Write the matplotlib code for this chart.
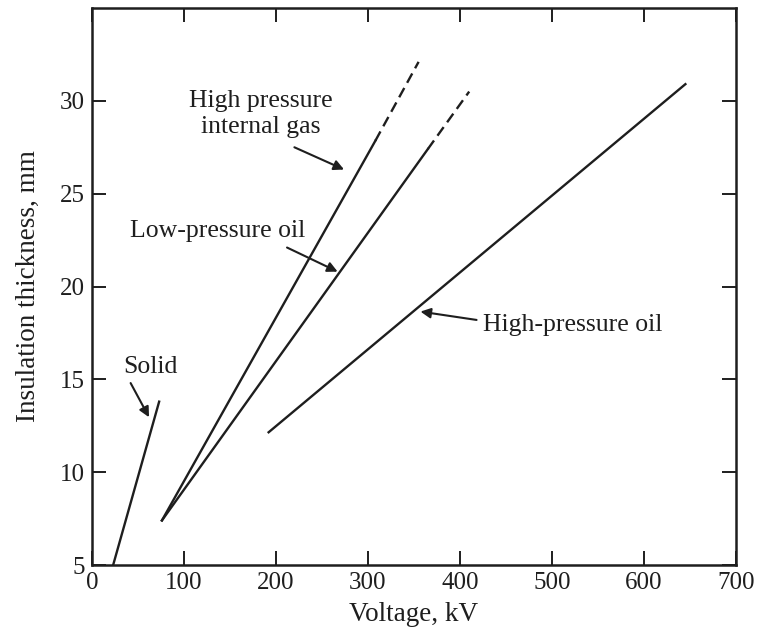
import matplotlib

matplotlib.use("Agg")
import matplotlib.pyplot as plt

# data (kV, mm)
solid_v = [23, 73]
solid_t = [5.0, 13.8]

gas_v = [76, 308]
gas_t = [7.4, 27.85]
gas_ext_v = [308, 355]
gas_ext_t = [27.85, 32.1]

lpo_v = [76, 365]
lpo_t = [7.4, 27.4]
lpo_ext_v = [365, 410]
lpo_ext_t = [27.4, 30.5]

hpo_v = [192, 645]
hpo_t = [12.15, 30.9]

x_ticks = [0, 100, 200, 300, 400, 500, 600, 700]
y_ticks = [5, 10, 15, 20, 25, 30]

INK = "#1e1e1e"

plt.rcParams.update({
    "font.family": ["Liberation Serif", "DejaVu Serif"],
    "font.size": 18,
})

fig = plt.figure(figsize=(7.59, 6.37), dpi=100)
ax = fig.add_axes([0.1212, 0.113, 0.8485, 0.8744])

lw = 1.7
ax.plot(solid_v, solid_t, color=INK, lw=lw)
ax.plot(gas_v, gas_t, color=INK, lw=lw)
ax.plot(gas_ext_v, gas_ext_t, color=INK, lw=lw, dashes=(4.5, 2.5))
ax.plot(lpo_v, lpo_t, color=INK, lw=lw)
ax.plot(lpo_ext_v, lpo_ext_t, color=INK, lw=lw, dashes=(4.5, 2.5))
ax.plot(hpo_v, hpo_t, color=INK, lw=lw)

arrow = dict(arrowstyle="-|>", color=INK, lw=1.5, mutation_scale=15, shrinkA=0, shrinkB=0)
ax.annotate("", xy=(274, 26.3), xytext=(220, 27.5), arrowprops=arrow)
ax.annotate("", xy=(267, 20.8), xytext=(212, 22.1), arrowprops=arrow)
ax.annotate("", xy=(357, 18.65), xytext=(418, 18.2), arrowprops=arrow)
ax.annotate("", xy=(62, 12.96), xytext=(42, 14.8), arrowprops=arrow)

ax.text(183, 29.3, "High pressure\ninternal gas", ha="center", va="center",
        linespacing=1.2, color=INK, fontsize=18.5)
ax.text(137, 23.0, "Low-pressure oil", ha="center", va="center", color=INK, fontsize=18.5)
ax.text(523, 17.95, "High-pressure oil", ha="center", va="center", color=INK, fontsize=18.5)
ax.text(64, 15.65, "Solid", ha="center", va="center", color=INK, fontsize=18.5)

ax.set_xlim(0, 700)
ax.set_ylim(5, 35)
ax.set_xticks(x_ticks)
ax.set_yticks(y_ticks)
ax.tick_params(direction="in", length=10, width=1.4, color=INK,
               top=True, right=True, labelsize=18, pad=5, labelcolor=INK)
for sp in ax.spines.values():
    sp.set_linewidth(1.8)
    sp.set_color(INK)

ax.set_xlabel("Voltage, kV", fontsize=19.5, color=INK, labelpad=6)
ax.set_ylabel("Insulation thickness, mm", fontsize=19.5, color=INK, labelpad=14)

fig.savefig("out.png", dpi=100)
